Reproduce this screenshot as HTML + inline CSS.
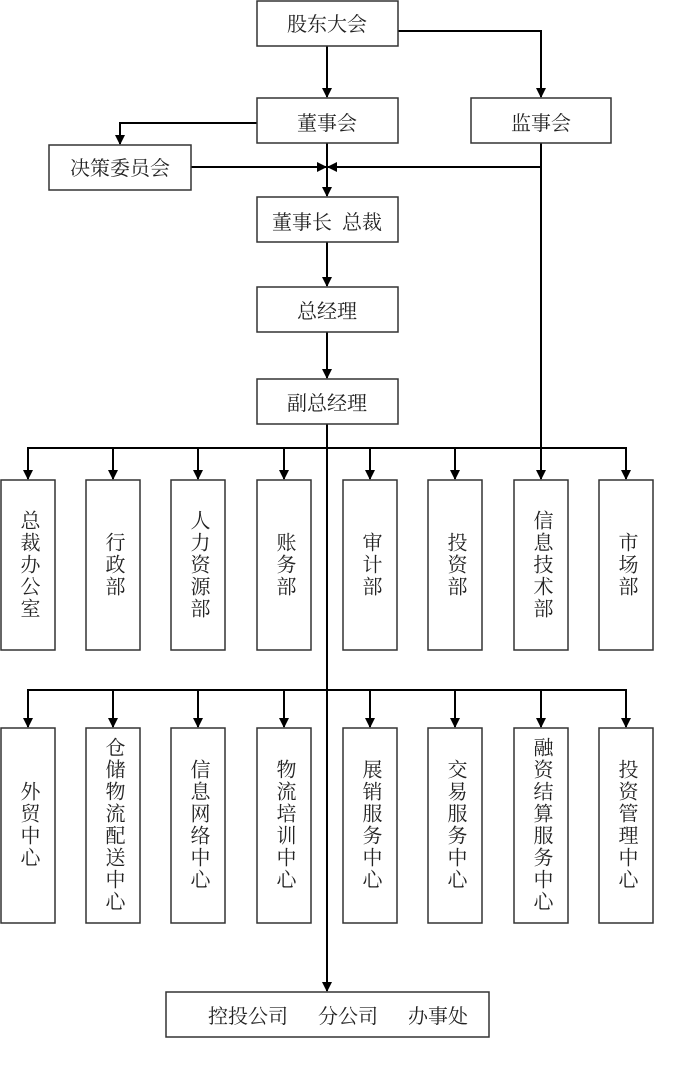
<!DOCTYPE html>
<html><head><meta charset="utf-8"><style>
html,body{margin:0;padding:0;background:#fff;}
svg{display:block;}
text{font-family:"Liberation Serif","Noto Serif CJK SC","Noto Sans CJK SC",serif;font-size:20px;fill:#222;}
</style></head><body>
<svg width="680" height="1068" viewBox="0 0 680 1068" xmlns="http://www.w3.org/2000/svg">
<defs><marker id="a" markerWidth="10" markerHeight="10" refX="9" refY="5" orient="auto" markerUnits="userSpaceOnUse" viewBox="0 0 10 10"><path d="M0,0 L10,5 L0,10 Z" fill="#000"/></marker>
</defs>
<g fill="none" stroke="#000" stroke-width="2">
<line x1="327" y1="46" x2="327" y2="97" marker-end="url(#a)"/>
<polyline points="398,31 541,31 541,97" marker-end="url(#a)"/>
<polyline points="257,123 120,123 120,144" marker-end="url(#a)"/>
<line x1="327" y1="143" x2="327" y2="196" marker-end="url(#a)"/>
<line x1="191" y1="167" x2="326" y2="167" marker-end="url(#a)"/>
<line x1="541" y1="167" x2="328" y2="167" marker-end="url(#a)"/>
<line x1="541" y1="143" x2="541" y2="479" marker-end="url(#a)"/>
<line x1="327" y1="242" x2="327" y2="286" marker-end="url(#a)"/>
<line x1="327" y1="332" x2="327" y2="378" marker-end="url(#a)"/>
<line x1="327" y1="424" x2="327" y2="991" marker-end="url(#a)"/>
<line x1="28" y1="448" x2="626" y2="448"/>
<line x1="28" y1="690" x2="626" y2="690"/>
<g>
<line x1="28" y1="447" x2="28" y2="479" marker-end="url(#a)"/>
<line x1="113" y1="448" x2="113" y2="479" marker-end="url(#a)"/>
<line x1="198" y1="448" x2="198" y2="479" marker-end="url(#a)"/>
<line x1="284" y1="448" x2="284" y2="479" marker-end="url(#a)"/>
<line x1="370" y1="448" x2="370" y2="479" marker-end="url(#a)"/>
<line x1="455" y1="448" x2="455" y2="479" marker-end="url(#a)"/>
<line x1="626" y1="447" x2="626" y2="479" marker-end="url(#a)"/>
<line x1="28" y1="689" x2="28" y2="727" marker-end="url(#a)"/>
<line x1="113" y1="690" x2="113" y2="727" marker-end="url(#a)"/>
<line x1="198" y1="690" x2="198" y2="727" marker-end="url(#a)"/>
<line x1="284" y1="690" x2="284" y2="727" marker-end="url(#a)"/>
<line x1="370" y1="690" x2="370" y2="727" marker-end="url(#a)"/>
<line x1="455" y1="690" x2="455" y2="727" marker-end="url(#a)"/>
<line x1="541" y1="690" x2="541" y2="727" marker-end="url(#a)"/>
<line x1="626" y1="689" x2="626" y2="727" marker-end="url(#a)"/>
</g>
</g>
<g fill="#fff" stroke="#333" stroke-width="1.5">
<rect x="257" y="1" width="141" height="45"/>
<rect x="257" y="98" width="141" height="45"/>
<rect x="471" y="98" width="140" height="45"/>
<rect x="49" y="145" width="142" height="45"/>
<rect x="257" y="197" width="141" height="45"/>
<rect x="257" y="287" width="141" height="45"/>
<rect x="257" y="379" width="141" height="45"/>
<rect x="1" y="480" width="54" height="170"/>
<rect x="86" y="480" width="54" height="170"/>
<rect x="171" y="480" width="54" height="170"/>
<rect x="257" y="480" width="54" height="170"/>
<rect x="343" y="480" width="54" height="170"/>
<rect x="428" y="480" width="54" height="170"/>
<rect x="514" y="480" width="54" height="170"/>
<rect x="599" y="480" width="54" height="170"/>
<rect x="1" y="728" width="54" height="195"/>
<rect x="86" y="728" width="54" height="195"/>
<rect x="171" y="728" width="54" height="195"/>
<rect x="257" y="728" width="54" height="195"/>
<rect x="343" y="728" width="54" height="195"/>
<rect x="428" y="728" width="54" height="195"/>
<rect x="514" y="728" width="54" height="195"/>
<rect x="599" y="728" width="54" height="195"/>
<rect x="166" y="992" width="323" height="45"/>
</g>
<g text-anchor="middle">
<text x="327" y="31">股东大会</text>
<text x="327" y="130">董事会</text>
<text x="541" y="130">监事会</text>
<text x="120" y="175">决策委员会</text>
<text x="327" y="229" xml:space="preserve">董事长  总裁</text>
<text x="327" y="318">总经理</text>
<text x="327" y="410">副总经理</text>
<text x="338" y="1023" xml:space="preserve">控投公司      分公司      办事处</text>
</g>
<g text-anchor="middle" style="letter-spacing:2px">
<text x="28" y="565" style="writing-mode:vertical-rl" text-anchor="middle">总裁办公室</text>
<text x="113" y="565" style="writing-mode:vertical-rl" text-anchor="middle">行政部</text>
<text x="198" y="565" style="writing-mode:vertical-rl" text-anchor="middle">人力资源部</text>
<text x="284" y="565" style="writing-mode:vertical-rl" text-anchor="middle">账务部</text>
<text x="370" y="565" style="writing-mode:vertical-rl" text-anchor="middle">审计部</text>
<text x="455" y="565" style="writing-mode:vertical-rl" text-anchor="middle">投资部</text>
<text x="541" y="565" style="writing-mode:vertical-rl" text-anchor="middle">信息技术部</text>
<text x="626" y="565" style="writing-mode:vertical-rl" text-anchor="middle">市场部</text>
<text x="28" y="825" style="writing-mode:vertical-rl" text-anchor="middle">外贸中心</text>
<text x="113" y="825" style="writing-mode:vertical-rl" text-anchor="middle">仓储物流配送中心</text>
<text x="198" y="825" style="writing-mode:vertical-rl" text-anchor="middle">信息网络中心</text>
<text x="284" y="825" style="writing-mode:vertical-rl" text-anchor="middle">物流培训中心</text>
<text x="370" y="825" style="writing-mode:vertical-rl" text-anchor="middle">展销服务中心</text>
<text x="455" y="825" style="writing-mode:vertical-rl" text-anchor="middle">交易服务中心</text>
<text x="541" y="825" style="writing-mode:vertical-rl" text-anchor="middle">融资结算服务中心</text>
<text x="626" y="825" style="writing-mode:vertical-rl" text-anchor="middle">投资管理中心</text>
</g>
</svg>
</body></html>
